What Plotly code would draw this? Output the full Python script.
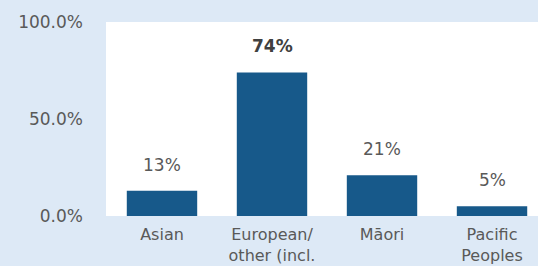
import plotly.graph_objects as go

categories = ["Asian", "European/<br>other (incl.", "Māori", "Pacific<br>Peoples"]
values = [13, 74, 21, 5]
value_labels = ["13%", "74%", "21%", "5%"]
label_bold = [False, True, False, False]
y_ticks = [0, 50, 100]
y_tick_labels = ["0.0%", "50.0%", "100.0%"]

BAR = "#17598a"
BG = "#dde9f6"
TXT = "#595959"

fig = go.Figure()
fig.add_trace(go.Bar(
    x=categories, y=values, marker=dict(color=BAR, line=dict(width=0)),
    width=0.64, hoverinfo="skip",
))

for c, v, t, b in zip(categories, values, value_labels, label_bold):
    fig.add_annotation(
        x=c, y=v, text=f"<b>{t}</b>" if b else t, showarrow=False,
        yanchor="bottom", yshift=14,
        font=dict(family="DejaVu Sans", size=17, color="#404040" if b else TXT),
    )

fig.update_layout(
    width=538, height=266,
    margin=dict(l=106, r=0, t=22, b=50),
    paper_bgcolor=BG, plot_bgcolor="white",
    showlegend=False,
    font=dict(family="DejaVu Sans", size=17, color=TXT),
    xaxis=dict(range=[-0.509, 3.418], showgrid=False, zeroline=False, showline=False,
               ticks="", tickfont=dict(size=16, color=TXT), ticklabelstandoff=7),
    yaxis=dict(range=[0, 100], tickvals=y_ticks, ticktext=y_tick_labels,
               showgrid=False, zeroline=False, showline=False, ticks="",
               tickfont=dict(size=17, color=TXT), ticklabelstandoff=22),
)

fig.write_html(
    "out.html",
    config={"displayModeBar": False},
    post_script="document.body.style.margin='0';document.body.style.overflow='hidden';",
)
